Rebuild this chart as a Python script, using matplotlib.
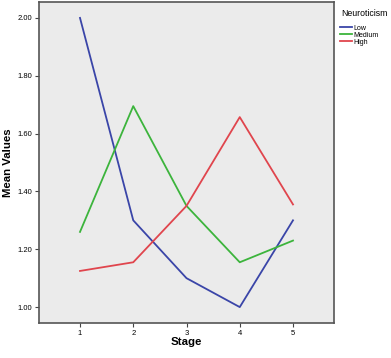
import matplotlib.pyplot as plt

plt.rcParams['font.family'] = ['Liberation Sans', 'DejaVu Sans']

stages = [1, 2, 3, 4, 5]
low = [2.00, 1.30, 1.10, 1.00, 1.30]
medium = [1.26, 1.695, 1.35, 1.155, 1.23]
high = [1.125, 1.155, 1.35, 1.657, 1.355]

fig = plt.figure(figsize=(3.91, 3.58), dpi=100)
ax = fig.add_axes([39 / 391, 35 / 358, 295 / 391, 321 / 358])
ax.set_facecolor('#ebebeb')

ax.plot(stages, low, color='#3a45a8', lw=1.3, label='Low')
ax.plot(stages, medium, color='#3cb43c', lw=1.3, label='Medium')
ax.plot(stages, high, color='#e0454d', lw=1.3, label='High')

ax.set_xlim(0.23, 5.77)
ax.set_ylim(0.945, 2.055)
ax.set_xticks(stages)
ax.set_yticks([1.0, 1.2, 1.4, 1.6, 1.8, 2.0])
ax.set_yticklabels(['1.00', '1.20', '1.40', '1.60', '1.80', '2.00'])
ax.tick_params(labelsize=5.5, length=3, width=0.8, color='#444444', pad=2)
for s in ax.spines.values():
    s.set_color('#555555')
    s.set_linewidth(1.2)

ax.set_xlabel('Stage', fontsize=8.2, fontweight='bold')
ax.set_ylabel('Mean Values', fontsize=8.2, fontweight='bold')
ax.xaxis.set_label_coords(0.5, -(337 - 323) / 321)
ax.yaxis.set_label_coords(-(39 - 13) / 295, 0.5)

fig.text(341 / 391, 1 - 13 / 358, 'Neuroticism', fontsize=6.3, va='center')
leg = ax.legend(loc='upper left', bbox_to_anchor=(1 + 5 / 295, 1 - 22 / 321), frameon=False,
                fontsize=5, handlelength=1.8, handletextpad=0.15,
                labelspacing=0.0, borderaxespad=0.0, borderpad=0.1)

fig.savefig('out.png', dpi=100)
